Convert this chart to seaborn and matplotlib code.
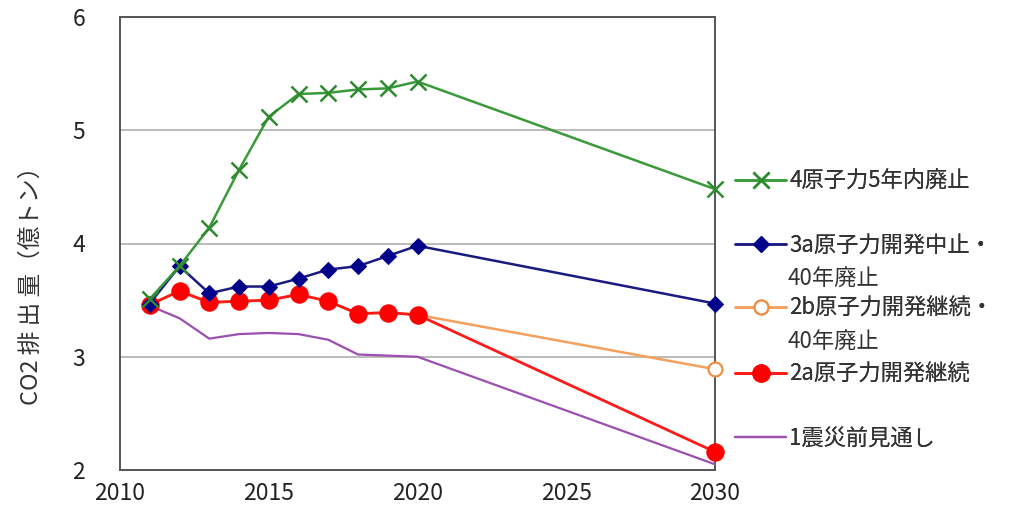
import matplotlib
matplotlib.use("Agg")
import matplotlib.pyplot as plt
import seaborn as sns
import pandas as pd

# ---- data ----
years = [2011, 2012, 2013, 2014, 2015, 2016, 2017, 2018, 2019, 2020, 2030]
s4 = [3.51, 3.80, 4.14, 4.65, 5.12, 5.32, 5.33, 5.36, 5.37, 5.43, 4.48]
s3a = [3.47, 3.80, 3.56, 3.62, 3.62, 3.69, 3.77, 3.80, 3.89, 3.98, 3.47]
s2b = [3.46, 3.58, 3.48, 3.49, 3.50, 3.55, 3.49, 3.38, 3.39, 3.37, 2.89]
s2a = [3.46, 3.58, 3.48, 3.49, 3.50, 3.55, 3.49, 3.38, 3.39, 3.37, 2.16]
s1 = [3.45, 3.34, 3.16, 3.20, 3.21, 3.20, 3.15, 3.02, 3.01, 3.00, 2.05]

labels = ["4原子力5年内廃止", "3a原子力開発中止・\n40年廃止", "2b原子力開発継続・\n40年廃止",
          "2a原子力開発継続", "1震災前見通し"]
xticks = [2010, 2015, 2020, 2025, 2030]
yticks = [2, 3, 4, 5, 6]
ylabel = "CO2 排 出 量（億トン）"

sns.set_theme(style="white")
plt.rcParams['font.family'] = ['Noto Sans CJK JP', 'DejaVu Sans']

fig = plt.figure(figsize=(10.12, 5.15), dpi=100)
ax = fig.add_axes([120/1012, 1-470/515, (715-120)/1012, (470-17)/515])

txt = "#333333"
# purple (1)
sns.lineplot(x=years, y=s1, ax=ax, color="#9b4fb0", linewidth=1.6, label=labels[4], legend=False)
# orange (2b)
sns.lineplot(x=years, y=s2b, ax=ax, color="#f4a05e", linewidth=1.8, marker="o", markersize=10,
             markerfacecolor="white", markeredgecolor="#ee8f45", markeredgewidth=1.6,
             label=labels[2], legend=False)
# red (2a)
sns.lineplot(x=years, y=s2a, ax=ax, color="#ff1a1a", linewidth=2.0, marker="o", markersize=12.5,
             markerfacecolor="#ff0000", markeredgecolor="#ff0000", label=labels[3], legend=False)
# blue (3a)
sns.lineplot(x=years, y=s3a, ax=ax, color="#1a1a80", linewidth=1.8, marker="D", markersize=8.5,
             markerfacecolor="#00008b", markeredgecolor="#00008b", label=labels[1], legend=False)
# green (4)
sns.lineplot(x=years, y=s4, ax=ax, color="#3a9a3a", linewidth=1.8, marker="x", markersize=12,
             markeredgewidth=1.8, markeredgecolor="#2e8b2e", label=labels[0], legend=False)
for ln in ax.get_lines():
    ln.set_clip_on(False)

ax.set_xlim(2010, 2030)
ax.set_ylim(2, 6)
ax.set_xticks(xticks)
ax.set_yticks(yticks)
ax.set_xticklabels([str(v) for v in xticks])
ax.set_yticklabels([str(v) for v in yticks])
ax.grid(False)
ax.yaxis.grid(True, color="#a8a8a8", linewidth=1.1)
ax.set_axisbelow(True)
for s in ax.spines.values():
    s.set_color("#555555")
    s.set_linewidth(1.4)
    s.set_zorder(1)
ax.tick_params(axis="both", direction="in", length=5, width=1.2, color="#555555",
               labelsize=16.5, labelcolor="#222222")
ax.tick_params(axis="y", pad=25)
ax.tick_params(axis="x", pad=9)
ax.set_xlabel("")
ax.set_ylabel(ylabel, fontsize=17, color=txt)
ax.yaxis.set_label_coords(-0.13, 0.42)

# legend entries placed individually (to match irregular spacing);
# handle is aligned with the first line of a two-line label
lines = {ln.get_label(): ln for ln in ax.get_lines()}
ycent = [1-181/515, 1-245/515, 1-308/515, 1-374/515, 1-438/515]
line_gap = 33/515
for lab, yc in zip(labels, ycent):
    parts = lab.split("\n")
    leg = fig.legend(handles=[lines[lab]], labels=[parts[0]], loc="center left",
                     bbox_to_anchor=(735/1012, yc), frameon=False, fontsize=16,
                     handlelength=2.3, handletextpad=0.15, borderpad=0, borderaxespad=0,
                     labelcolor=txt)
    fig.add_artist(leg)
    for k, extra in enumerate(parts[1:], start=1):
        fig.text(788/1012, yc - k*line_gap, extra, fontsize=16, color=txt,
                 ha="left", va="center")

fig.savefig("out.png", dpi=100)
